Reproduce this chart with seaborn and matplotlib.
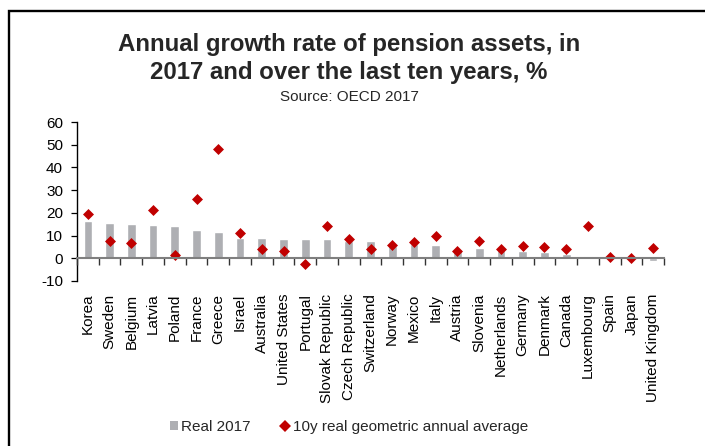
import numpy as np
import matplotlib
matplotlib.use("Agg")
import matplotlib.pyplot as plt
from matplotlib.patches import Patch, Rectangle
from matplotlib.lines import Line2D
import seaborn as sns

# Pension asset growth by country (%)
countries = [
    "Korea", "Sweden", "Belgium", "Latvia", "Poland", "France", "Greece",
    "Israel", "Australia", "United States", "Portugal", "Slovak Republic",
    "Czech Republic", "Switzerland", "Norway", "Mexico", "Italy", "Austria",
    "Slovenia", "Netherlands", "Germany", "Denmark", "Canada", "Luxembourg",
    "Spain", "Japan", "United Kingdom",
]
real_2017 = [16.2, 15.5, 14.9, 14.5, 14.4, 12.3, 11.7, 8.9, 8.8, 8.6, 8.6,
             8.4, 7.8, 7.5, 5.4, 6.4, 5.8, 4.2, 4.7, 3.8, 3.1, 2.8, 1.9,
             1.2, 0.3, 0.2, -1.4]
avg_10y = [19.3, 7.8, 6.6, 21.4, 1.5, 26.3, 48.0, 11.1, 4.1, 3.0, -2.6,
           14.1, 8.4, 4.1, 5.9, 7.1, 9.6, 3.4, 7.8, 4.1, 5.6, 5.0, 3.9,
           14.0, 0.4, 0.0, 4.4]
series_names = ["Real 2017", "10y real geometric annual average"]
y_ticks = list(range(-10, 61, 10))

BAR_GREY = "#AEAFB3"
RED = "#C00000"

sns.set_style("white")
plt.rcParams["font.family"] = ["Liberation Sans", "DejaVu Sans"]
plt.rcParams["axes.unicode_minus"] = False

W, H = 705, 446
fig = plt.figure(figsize=(W / 100, H / 100), dpi=100)
ax = fig.add_axes([77 / W, 165 / H, 587 / W, 159 / H])

sns.barplot(x=countries, y=real_2017, order=countries, color=BAR_GREY,
            saturation=1, width=0.4, errorbar=None, ax=ax, zorder=2)
sns.stripplot(x=countries, y=avg_10y, order=countries, jitter=False,
              marker="D", size=5.6, color=RED, linewidth=0, ax=ax, zorder=4)

n = len(countries)
ax.set_xlim(-0.5, n - 0.5)
ax.set_ylim(-10, 60)
ax.set_yticks(y_ticks)
ax.set_xlabel("")
ax.set_ylabel("")

for side in ("top", "right", "bottom"):
    ax.spines[side].set_visible(False)
ax.spines["left"].set_color("black")
ax.spines["left"].set_linewidth(1.0)

ax.tick_params(axis="y", direction="out", length=4, width=0.9,
               color="black", pad=6, labelsize=11, left=True)
ax.tick_params(axis="x", length=0, pad=9, labelsize=11, labelrotation=90)
for lbl in ax.get_xticklabels() + ax.get_yticklabels():
    lbl.set_color("black")

# Category axis drawn along the zero line, with ticks between categories
ax2 = ax.twiny()
ax2.set_xlim(ax.get_xlim())
for side in ("top", "left", "right"):
    ax2.spines[side].set_visible(False)
ax2.xaxis.set_ticks_position("bottom")
ax2.spines["bottom"].set_position(("data", 0))
ax2.spines["bottom"].set_color("#7F7F7F")
ax2.spines["bottom"].set_linewidth(1.5)
ax2.spines["bottom"].set_zorder(3)
ax2.set_xticks(np.arange(-0.5, n, 1.0))
ax2.tick_params(axis="x", direction="out", length=5, width=1.0,
                color="#333333", labelbottom=False, labeltop=False)

# Titles
fig.text(349 / W, 1 - 45 / H, "Annual growth rate of pension assets, in",
         ha="center", va="center", fontsize=17.3, fontweight="bold")
fig.text(349 / W, 1 - 73 / H, "2017 and over the last ten years, %",
         ha="center", va="center", fontsize=17.3, fontweight="bold")
fig.text(349 / W, 1 - 97 / H, "Source: OECD 2017",
         ha="center", va="center", fontsize=11)

# Legend
handles = [
    Patch(facecolor=BAR_GREY, edgecolor="none", label=series_names[0]),
    Line2D([], [], linestyle="none", marker="D", markersize=6,
           markerfacecolor=RED, markeredgewidth=0, label=series_names[1]),
]
fig.legend(handles=handles, loc="center", bbox_to_anchor=(349 / W, 1 - 427 / H),
           ncol=2, frameon=False, fontsize=11, handlelength=0.5,
           handleheight=0.5, handletextpad=0.25, columnspacing=2.0,
           borderaxespad=0)

# Outer frame (open on the right and bottom)
fig.add_artist(Rectangle((9 / W, -0.5), 2.0, (1 - 11 / H) + 0.5,
                         transform=fig.transFigure, fill=False,
                         edgecolor="black", linewidth=1.7, clip_on=False))

fig.savefig("out.png", dpi=100)
